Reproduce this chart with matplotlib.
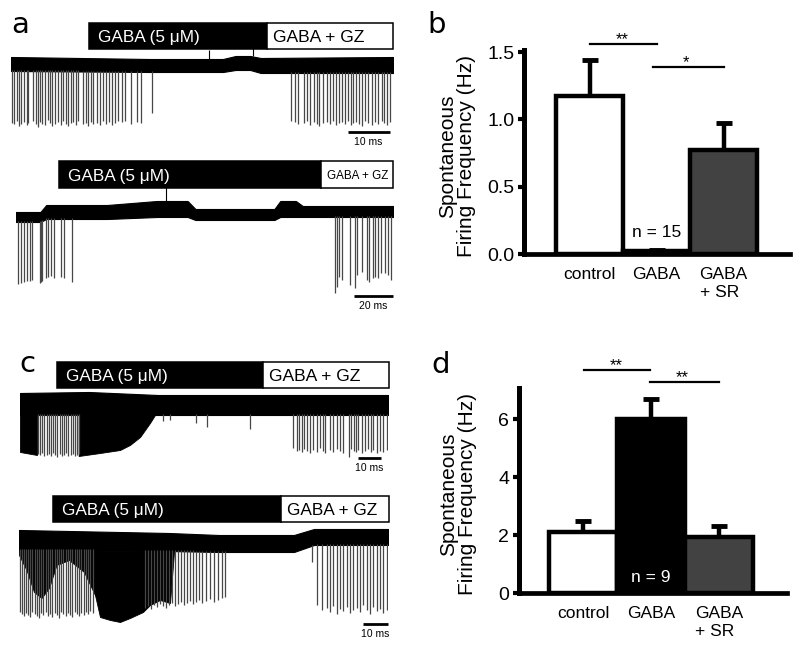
import numpy as np
import matplotlib
matplotlib.use("Agg")
import matplotlib.pyplot as plt
from matplotlib.patches import Rectangle

plt.rcParams['font.family'] = ['Liberation Sans', 'DejaVu Sans']

W, H = 800, 645

# ---------------- bar chart data ----------------
categories = ['control', 'GABA', 'GABA\n+ SR']
b_means = [1.17, 0.02, 0.77]
b_errs = [0.27, 0.01, 0.20]
b_n = 'n = 15'
d_means = [2.1, 6.0, 1.93]
d_errs = [0.4, 0.7, 0.37]
d_n = 'n = 9'
bar_colors_b = ['white', 'white', '#424242']
bar_colors_d = ['white', 'black', '#424242']

# ---------------- trace data (ms, arbitrary amplitude) ----------------
# trace a1
a1_band_t = [0, 33.1, 50.5, 53.5, 57.0, 59.5, 91]
a1_band_hi = [7, 5, 5, 8, 8, 6, 7]
a1_band_lo = [-7, -8, -8, -6, -6, -9, -9]
a1_spk_t = [0.2, 0.7, 1.4, 1.9, 2.5, 3.2, 3.7, 4.1, 5.3, 5.9, 6.4, 6.9, 7.5, 8.1, 8.7,
            9.3, 9.8, 10.5, 11.3, 11.8, 12.5, 13.1, 13.6, 14.3, 14.8, 15.4, 16.0, 17.2,
            17.9, 18.4, 19.0, 19.6, 20.6, 21.2, 22.0, 22.6, 23.3, 24.1, 24.8, 25.5, 26.4,
            27.1, 28.6, 29.9, 30.9, 33.5,
            66.6, 67.6, 68.4, 69.8, 70.4, 71.2, 72.1, 72.9, 73.4, 74.3, 75.2, 76.1, 76.7,
            77.5, 78.2, 78.8, 79.5, 80.2, 80.9, 81.5, 82.1, 82.8, 83.5, 84.4, 85.1, 85.9,
            86.7, 87.5, 88.3, 88.9, 89.6, 90.2]
a1_spk_a = [-59, -60, -57, -62, -60, -58, -61, -59, -57, -60, -63, -58, -60, -61, -56,
            -59, -62, -60, -58, -61, -57, -60, -62, -59, -58, -61, -57, -60, -59, -62,
            -58, -60, -59, -61, -57, -60, -58, -61, -59, -57, -58, -57, -60, -58, -59, -49,
            -57, -58, -60, -59, -57, -61, -58, -60, -62, -59, -58, -60, -57, -61, -59,
            -58, -60, -57, -61, -59, -58, -60, -62, -57, -59, -61, -58, -60, -57, -59,
            -61, -58]
a1_up_t = [47.1, 57.6]
a1_up_a = [14, 16]

# trace a2
a2_band_t = [0, 12.5, 15.5, 46.7, 72.3, 88.0, 92.0, 132.5, 135.5, 143.5, 147.0, 193.3]
a2_band_hi = [8, 8, 15, 15, 19, 19, 11, 11, 19, 19, 14, 14]
a2_band_lo = [-2, -2, 1, 1, 3, 3, 0, 0, 3, 3, 3, 3]
a2_spk_t = [1.2, 2.6, 4.3, 5.6, 7.0, 8.4, 12.2, 12.8, 13.5, 15.2, 16.6, 18.0, 19.5, 23.1,
            24.5, 28.6,
            163.6, 164.8, 165.8, 167.0, 171.3, 173.8, 175.0, 177.3, 179.8, 181.2, 182.9,
            184.1, 185.8, 187.2, 189.2, 190.9, 192.2]
a2_spk_a = [-64, -63, -62, -61, -61, -60, -63, -62, -61, -58, -57, -56, -58, -57, -58, -62,
            -73, -67, -57, -60, -65, -68, -55, -52, -60, -62, -58, -57, -58, -53, -53, -55, -60]
a2_up_t = [76.9]
a2_up_a = [33]

# trace c1
c1_band_t = [0, 30, 60, 160]
c1_band_hi = [22, 23, 20, 20]
c1_band_lo = [0, 0, 0, 0]
c1_dense_t = [0, 7.4, 25.5, 34.8, 43.5, 47.8, 52.2, 56.5, 58.7]
c1_dense_a = [-37, -40, -41, -38, -35, -30, -22, -8, 0]
c1_spk_t = [7.8, 8.7, 9.6, 10.4, 11.7, 12.6, 13.5, 14.3, 15.2, 16.1, 17.4, 18.3, 19.1,
            20.0, 20.9, 22.2, 23.0, 23.9, 24.8, 25.7,
            62.2, 65.2, 76.5, 81.3, 100.0,
            118.8, 120.3, 121.3, 122.5, 123.5, 124.7, 126.1, 127.5, 129.0, 130.4, 131.6,
            132.6, 134.8, 136.2, 137.7, 139.1, 140.6, 143.2, 143.8, 145.0, 146.1, 147.1,
            148.6, 150.0, 151.4, 152.5, 153.6, 155.1, 156.5, 158.0, 159.4]
c1_spk_a = [-39, -40, -38, -41, -40, -39, -41, -38, -40, -42, -39, -41, -40, -38, -41,
            -40, -39, -41, -40, -39,
            -6, -5, -8, -12, -14,
            -33, -36, -35, -37, -34, -36, -38, -35, -37, -33, -36, -38, -35, -37, -34,
            -36, -38, -42, -34, -36, -37, -35, -38, -36, -34, -37, -35, -38, -36, -37, -35]

# trace c2
c2_band_t = [0, 60, 80, 110, 118, 147.6]
c2_band_hi = [20, 17, 15, 15, 21, 21]
c2_band_lo = [0, -1, -2, -2, 5, 5]
c2_dense1_t = [0, 3.0, 6.0, 9.0, 12.0, 15.0, 20.0, 26.0, 30.4]
c2_dense1_a = [-5, -20, -42, -48, -38, -15, -10, -22, -45]
c2_dense2_t = [30.4, 32.4, 36.4, 40.4, 44.4, 49.6, 52.4, 56.4, 60.4, 62.0]
c2_dense2_a = [-45, -67, -70, -72, -68, -62, -55, -50, -53, -2]
c2_spk_t = [0.4, 1.2, 2.0, 2.8, 3.6, 4.4, 5.2, 6.4, 7.2, 8.0, 8.8, 9.6, 10.8, 11.6,
            12.4, 13.2, 14.4, 15.2, 16.0, 16.8, 17.6, 18.8, 19.6, 20.4, 21.2, 22.4, 23.2,
            24.0, 24.8, 26.0, 26.8, 27.6, 28.4, 29.6,
            50.4, 51.6, 52.8, 54.0, 55.2, 56.4, 57.6, 58.8, 60.0, 61.2, 62.4, 63.6, 64.8,
            66.0, 67.2, 68.4, 69.6, 70.8, 72.0, 73.2, 74.8, 76.4, 78.0, 79.6, 81.2, 82.4,
            117.2, 119.1, 121.1, 123.1, 124.4, 125.7, 127.1, 128.4, 129.7, 131.1, 132.4,
            133.7, 135.1, 136.4, 137.7, 139.1, 140.4, 141.7, 143.1, 144.4, 145.7, 147.1]
c2_spk_a = [-62, -64, -66, -63, -65, -67, -62, -64, -66, -68, -63, -65, -62, -66, -64,
            -67, -63, -65, -68, -62, -64, -66, -63, -65, -67, -62, -64, -66, -63, -65,
            -62, -64, -61, -63,
            -58, -56, -59, -55, -57, -54, -56, -58, -55, -53, -56, -54, -52, -55, -53,
            -51, -54, -52, -50, -53, -51, -49, -52, -50, -48, -47,
            -12, -55, -60, -58, -62, -56, -64, -59, -61, -57, -63, -60, -58, -62, -55,
            -60, -64, -57, -61, -59, -63, -60]

drug1 = 'GABA (5 \u03bcM)'
drug2 = 'GABA + GZ'


def ax_px(x0, y0, x1, y1):
    return fig.add_axes([x0 / W, 1 - y1 / H, (x1 - x0) / W, (y1 - y0) / H])


def draw_trace(ax, xlim, ylim, band_t, band_hi, band_lo, spk_t, spk_a,
               bar_t, bar_a, lbl_fs2, scale_t, scale_a, scale_lbl,
               dense=(), up_t=(), up_a=()):
    ax.set_xlim(*xlim)
    ax.set_ylim(*ylim)
    ax.axis('off')
    tt = np.linspace(band_t[0], band_t[-1], 600)
    hi = np.interp(tt, band_t, band_hi)
    lo = np.interp(tt, band_t, band_lo)
    ax.fill_between(tt, lo, hi, color='black', lw=0.8)
    for dt, da in dense:
        base = np.interp(dt, band_t, band_lo)
        ax.fill_between(dt, da, base, color='black', lw=0.6)
    base = np.interp(spk_t, band_t, band_lo) + 1
    ax.vlines(spk_t, spk_a, base, color='#474747', lw=0.9)
    if len(up_t):
        topb = np.interp(up_t, band_t, band_hi)
        ax.vlines(up_t, topb, up_a, color='black', lw=0.8)
    # drug application bar
    t0, t1, t2 = bar_t
    a0, a1 = bar_a
    ax.add_patch(Rectangle((t0, a0), t1 - t0, a1 - a0, facecolor='black',
                           edgecolor='black', lw=1.1, clip_on=False))
    ax.add_patch(Rectangle((t1, a0), t2 - t1, a1 - a0, facecolor='white',
                           edgecolor='black', lw=1.1, clip_on=False))
    am = (a0 + a1) / 2
    dx = (xlim[1] - xlim[0]) / (ax.get_position().width * W)
    ax.text(t0 + 9 * dx, am, drug1, color='white', fontsize=12.4,
            ha='left', va='center_baseline')
    ax.text(t1 + 6 * dx, am, drug2, color='black', fontsize=lbl_fs2,
            ha='left', va='center_baseline')
    # scale bar
    ax.plot(scale_t, [scale_a, scale_a], color='black', lw=2.0,
            solid_capstyle='butt', clip_on=False)
    ax.text(np.mean(scale_t), scale_a - 5, scale_lbl, fontsize=7.5,
            ha='center', va='top')


fig = plt.figure(figsize=(W / 100, H / 100), dpi=100)

# panel a, top trace
ax = ax_px(11, 20, 393, 152)
draw_trace(ax, (0, 91), (-88, 44), a1_band_t, a1_band_hi, a1_band_lo, a1_spk_t, a1_spk_a,
           (18.6, 61.0, 91.0), (15, 41), 12.6, (80.2, 90.2), -68, '10 ms',
           up_t=a1_up_t, up_a=a1_up_a)
# panel a, bottom trace
ax = ax_px(16, 158, 393, 310)
draw_trace(ax, (0, 193.3), (-90, 62), a2_band_t, a2_band_hi, a2_band_lo, a2_spk_t, a2_spk_a,
           (22.1, 156.4, 193.3), (32, 59), 8.4, (173.3, 193.3), -76, '20 ms',
           up_t=a2_up_t, up_a=a2_up_a)
# panel c, top trace
ax = ax_px(20, 358, 388, 472)
draw_trace(ax, (0, 160), (-57, 57), c1_band_t, c1_band_hi, c1_band_lo, c1_spk_t, c1_spk_a,
           (16.1, 105.7, 160.4), (27, 53), 12.6, (147.0, 157.0), -43, '10 ms',
           dense=[(np.array(c1_dense_t[:2]), np.array(c1_dense_a[:2])),
                  (np.array(c1_dense_t[2:]), np.array(c1_dense_a[2:]))])
# panel c, bottom trace
ax = ax_px(19, 492, 388, 640)
draw_trace(ax, (0, 147.6), (-90, 58), c2_band_t, c2_band_hi, c2_band_lo, c2_spk_t, c2_spk_a,
           (13.6, 104.8, 148.0), (28, 54), 12.4, (137.6, 147.6), -74, '10 ms',
           dense=[(np.array(c2_dense1_t), np.array(c2_dense1_a)),
                  (np.array(c2_dense2_t), np.array(c2_dense2_a))])


def bar_panel(ax, means, errs, colors, ylim, xlim, yticks, yfmt, sig, ntext, ncolor, ny):
    x = np.arange(len(means))
    ax.bar(x, means, width=1.0, color=colors, edgecolor='black', lw=3.2, zorder=2)
    ax.errorbar(x, means, yerr=[[0] * len(errs), errs], fmt='none', ecolor='black',
                elinewidth=3.2, capsize=6, capthick=3.5, zorder=1)
    ax.set_xlim(*xlim)
    ax.set_ylim(*ylim)
    for s in ['top', 'right']:
        ax.spines[s].set_visible(False)
    ax.spines['left'].set_linewidth(3.6)
    ax.spines['bottom'].set_linewidth(3.4)
    ax.set_yticks(yticks)
    ax.set_yticklabels([yfmt.format(v) for v in yticks], fontsize=14)
    ax.tick_params(axis='y', length=4, width=3, pad=3)
    ax.set_xticks(x)
    labs = ax.set_xticklabels(categories, fontsize=12.5, linespacing=1.25)
    labs[2].set_multialignment('left')
    ax.tick_params(axis='x', length=0, pad=9)
    for (xa, xb, y, stars, xs) in sig:
        ax.plot([xa, xb], [y, y], color='black', lw=1.6, clip_on=False)
        ax.text(xs, y, stars, fontsize=12, ha='center', va='baseline')
    ax.text(1, ny, ntext, color=ncolor, fontsize=12.5, ha='center', va='center')


axb = ax_px(524, 50, 790, 254)
bar_panel(axb, b_means, b_errs, bar_colors_b, (0, 1.515), (-0.98, 2.99),
          [0, 0.5, 1.0, 1.5], '{:.1f}',
          [(0.0, 1.0, 1.56, '**', 0.48), (0.95, 2.0, 1.39, '*', 1.44)],
          b_n, 'black', 0.16)

axd = ax_px(519, 388, 787, 593)
bar_panel(axd, d_means, d_errs, bar_colors_d, (0, 7.07), (-0.94, 3.0),
          [0, 2, 4, 6], '{:d}',
          [(0.02, 0.99, 7.69, '**', 0.49), (0.99, 2.0, 7.28, '**', 1.46)],
          d_n, 'white', 0.52)

ylab = 'Spontaneous\nFiring Frequency (Hz)'
fig.text(457 / W, 1 - 156 / H, ylab, rotation=90, fontsize=15, ha='center', va='center',
         linespacing=1.05)
fig.text(458 / W, 1 - 494 / H, ylab, rotation=90, fontsize=15, ha='center', va='center',
         linespacing=1.05)

for lbl, (x, y) in zip('abcd', [(11, 33), (427, 33), (19, 372), (431, 373)]):
    fig.text(x / W, 1 - y / H, lbl, fontsize=21, family='DejaVu Sans',
             ha='left', va='baseline')

fig.savefig('out.png', dpi=100)
